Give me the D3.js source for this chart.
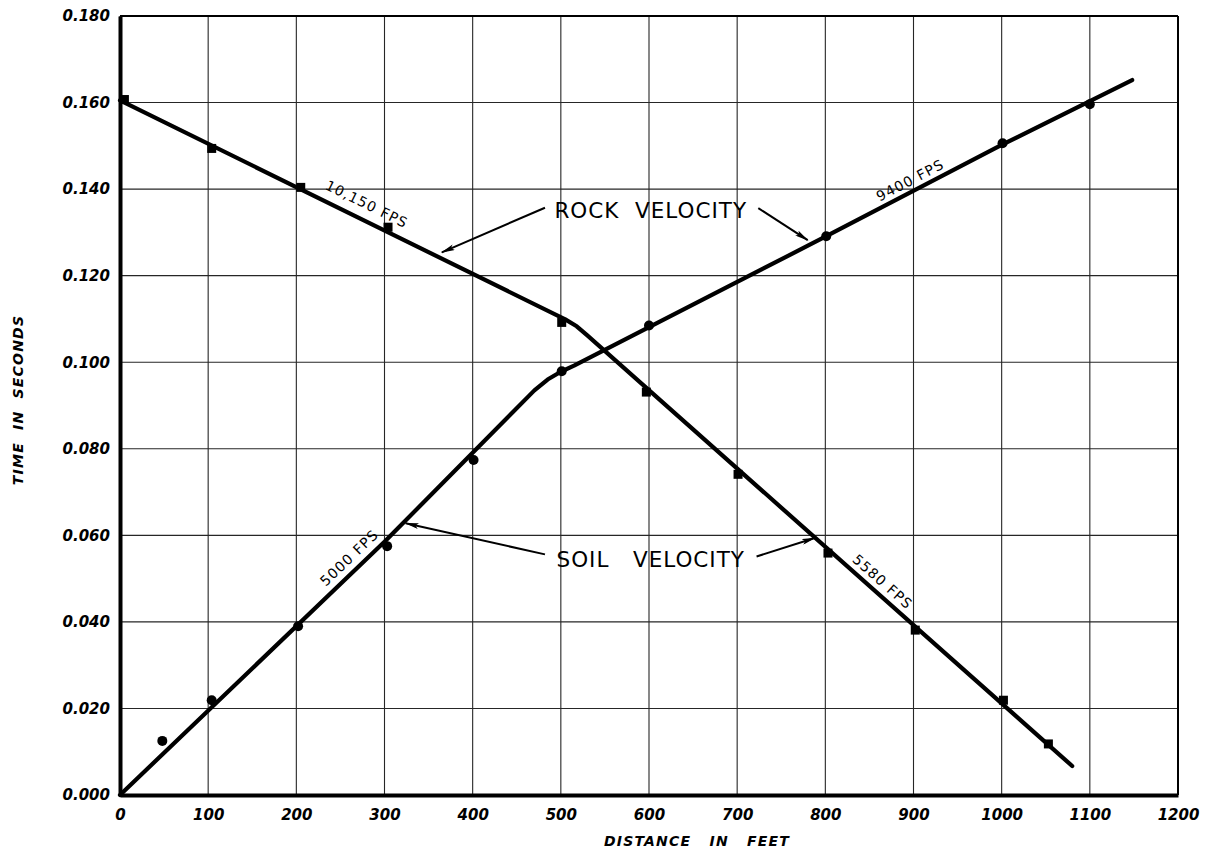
<!DOCTYPE html>
<html>
<head>
<meta charset="utf-8">
<script src="https://cdn.jsdelivr.net/npm/d3@7"></script>
<style>
  html, body { margin: 0; padding: 0; background: #ffffff; }
  svg { display: block; }
</style>
</head>
<body>
<svg id="chart" width="1214" height="852"></svg>
<script>
// ---------- data ----------
const xTicks = [0, 100, 200, 300, 400, 500, 600, 700, 800, 900, 1000, 1100, 1200];
const yTicks = [0, 0.02, 0.04, 0.06, 0.08, 0.10, 0.12, 0.14, 0.16, 0.18];

// observed arrivals, shot at left end (squares)
const leftShotDist = [5, 104, 205, 304, 501, 597, 701, 803, 902, 1002, 1053];
const leftShotTime = [0.1607, 0.1494, 0.1404, 0.1312, 0.1092, 0.0931, 0.0741, 0.0559, 0.0381, 0.0219, 0.0118];

// observed arrivals, shot at origin (circles)
const originShotDist = [48, 104, 202, 303, 401, 501, 600, 801, 1001, 1100];
const originShotTime = [0.0125, 0.0219, 0.0390, 0.0575, 0.0774, 0.0979, 0.1085, 0.1291, 0.1506, 0.1596];

// fitted travel-time lines
const descLineDist = [0, 505, 518, 530, 1080];
const descLineTime = [0.1605, 0.1099, 0.1083, 0.1062, 0.0067];
const ascLineDist = [0, 300, 470, 485, 500, 515, 800, 1000, 1148];
const ascLineTime = [0, 0.0585, 0.0935, 0.0960, 0.0978, 0.0992, 0.1290, 0.1502, 0.1652];

// velocity labels along the lines
const velLabels = ["10,150 FPS", "9400 FPS", "5000 FPS", "5580 FPS"];
const velLabelLine = ["desc", "asc", "asc", "desc"];
const velLabelDist = [272, 902, 270, 856];
const velLabelOffset = [11, 6, 8, 7];

// callouts
const calloutTexts = ["ROCK  VELOCITY", "SOIL   VELOCITY"];
const calloutDist = [602, 602];
const calloutTime = [0.1350, 0.0545];
// arrows: from (dist,time) to (dist,time)
const arrowFromDist = [482, 724, 482, 722];
const arrowFromTime = [0.1357, 0.1356, 0.0556, 0.0551];
const arrowToDist = [365, 780, 324, 788];
const arrowToTime = [0.1254, 0.1282, 0.0628, 0.0594];

const xTitle = "DISTANCE   IN   FEET";
const yTitle = "TIME  IN  SECONDS";

// ---------- layout ----------
const svg = d3.select("#chart");
const pLeft = 120, pRight = 1178, pTop = 16, pBottom = 795;
const x = d3.scaleLinear().domain([0, 1200]).range([pLeft, pRight]);
const y = d3.scaleLinear().domain([0, 0.18]).range([pBottom, pTop]);

const tickFont = "'DejaVu Sans', sans-serif";

// grid
const grid = svg.append("g");
grid.selectAll("line.v").data(xTicks).join("line").attr("class", "v")
  .attr("x1", d => x(d)).attr("x2", d => x(d))
  .attr("y1", pTop).attr("y2", pBottom)
  .attr("stroke", "#262626").attr("stroke-width", 1.1);
grid.selectAll("line.h").data(yTicks).join("line").attr("class", "h")
  .attr("x1", pLeft).attr("x2", pRight)
  .attr("y1", d => y(d)).attr("y2", d => y(d))
  .attr("stroke", "#262626").attr("stroke-width", 1.1);

// frame
svg.append("line").attr("x1", pLeft).attr("x2", pRight).attr("y1", pTop).attr("y2", pTop)
  .attr("stroke", "#000").attr("stroke-width", 2);
svg.append("line").attr("x1", pRight).attr("x2", pRight).attr("y1", pTop).attr("y2", pBottom)
  .attr("stroke", "#000").attr("stroke-width", 2);

// axes through d3 axis generators
const xAxis = d3.axisBottom(x).tickValues(xTicks).tickSize(0).tickPadding(14).tickFormat(d3.format("d"));
const yAxis = d3.axisLeft(y).tickValues(yTicks).tickSize(0).tickPadding(10).tickFormat(d3.format(".3f"));

const gx = svg.append("g").attr("transform", `translate(0,${pBottom})`).call(xAxis);
const gy = svg.append("g").attr("transform", `translate(${pLeft},0)`).call(yAxis);
[gx, gy].forEach(g => {
  g.select(".domain").attr("stroke", "#000").attr("stroke-width", 4);
  g.selectAll("text")
    .attr("font-family", tickFont)
    .attr("font-style", "italic")
    .attr("font-weight", "bold")
    .attr("font-size", 15)
    .attr("fill", "#000");
});

// axis titles
svg.append("text")
  .attr("x", 697).attr("y", 846)
  .attr("text-anchor", "middle")
  .attr("font-family", tickFont).attr("font-style", "italic").attr("font-weight", "bold")
  .attr("font-size", 14).attr("letter-spacing", 1.2)
  .style("white-space", "pre")
  .text(xTitle);
svg.append("text")
  .attr("transform", "translate(23,400) rotate(-90)")
  .attr("text-anchor", "middle")
  .attr("font-family", tickFont).attr("font-style", "italic").attr("font-weight", "bold")
  .attr("font-size", 14).attr("letter-spacing", 1.2)
  .style("white-space", "pre")
  .text(yTitle);

// fitted lines
const lineGen = d3.line().x(d => x(d[0])).y(d => y(d[1]));
const descLine = descLineDist.map((d, i) => [d, descLineTime[i]]);
const ascLine = ascLineDist.map((d, i) => [d, ascLineTime[i]]);
svg.append("path").datum(descLine).attr("d", lineGen)
  .attr("fill", "none").attr("stroke", "#000").attr("stroke-width", 4.2)
  .attr("stroke-linejoin", "round").attr("stroke-linecap", "round");
svg.append("path").datum(ascLine).attr("d", lineGen)
  .attr("fill", "none").attr("stroke", "#000").attr("stroke-width", 4.2)
  .attr("stroke-linejoin", "round").attr("stroke-linecap", "round");

// observed points
svg.append("g").selectAll("rect").data(leftShotDist).join("rect")
  .attr("x", (d) => x(d) - 4.5)
  .attr("y", (d, i) => y(leftShotTime[i]) - 4.5)
  .attr("width", 9).attr("height", 9).attr("fill", "#000");
svg.append("g").selectAll("circle").data(originShotDist).join("circle")
  .attr("cx", d => x(d))
  .attr("cy", (d, i) => y(originShotTime[i]))
  .attr("r", 5).attr("fill", "#000");

// velocity labels
function pointOn(line, dist) {
  for (let i = 0; i < line.length - 1; i++) {
    const a = line[i], b = line[i + 1];
    if (dist >= a[0] && dist <= b[0]) {
      const t = (dist - a[0]) / (b[0] - a[0]);
      const px = x(a[0] + t * (b[0] - a[0]));
      const py = y(a[1] + t * (b[1] - a[1]));
      const ang = Math.atan2(y(b[1]) - y(a[1]), x(b[0]) - x(a[0])) * 180 / Math.PI;
      return [px, py, ang];
    }
  }
  return [0, 0, 0];
}
velLabels.forEach((lab, i) => {
  const line = velLabelLine[i] === "desc" ? descLine : ascLine;
  const [px, py, ang] = pointOn(line, velLabelDist[i]);
  svg.append("text")
    .attr("transform", `translate(${px},${py}) rotate(${ang})`)
    .attr("y", -velLabelOffset[i])
    .attr("text-anchor", "middle")
    .attr("font-family", tickFont).attr("font-size", 14)
    .attr("letter-spacing", 1.1)
    .attr("fill", "#000")
    .text(lab);
});

// callouts
svg.append("defs").append("marker")
  .attr("id", "arrow").attr("viewBox", "0 0 14 6")
  .attr("refX", 13).attr("refY", 3)
  .attr("markerWidth", 14).attr("markerHeight", 6)
  .attr("markerUnits", "userSpaceOnUse")
  .attr("orient", "auto")
  .append("path").attr("d", "M0,0 L14,3 L0,6 L3,3 Z").attr("fill", "#000");

calloutTexts.forEach((t, i) => {
  svg.append("text")
    .attr("x", x(calloutDist[i])).attr("y", y(calloutTime[i]))
    .attr("dy", "0.36em")
    .attr("text-anchor", "middle")
    .attr("font-family", tickFont).attr("font-size", 21.5)
    .attr("letter-spacing", 1)
    .style("white-space", "pre")
    .attr("fill", "#000")
    .text(t);
});
arrowFromDist.forEach((d, i) => {
  svg.append("line")
    .attr("x1", x(d)).attr("y1", y(arrowFromTime[i]))
    .attr("x2", x(arrowToDist[i])).attr("y2", y(arrowToTime[i]))
    .attr("stroke", "#000").attr("stroke-width", 2)
    .attr("marker-end", "url(#arrow)");
});
</script>
</body>
</html>
